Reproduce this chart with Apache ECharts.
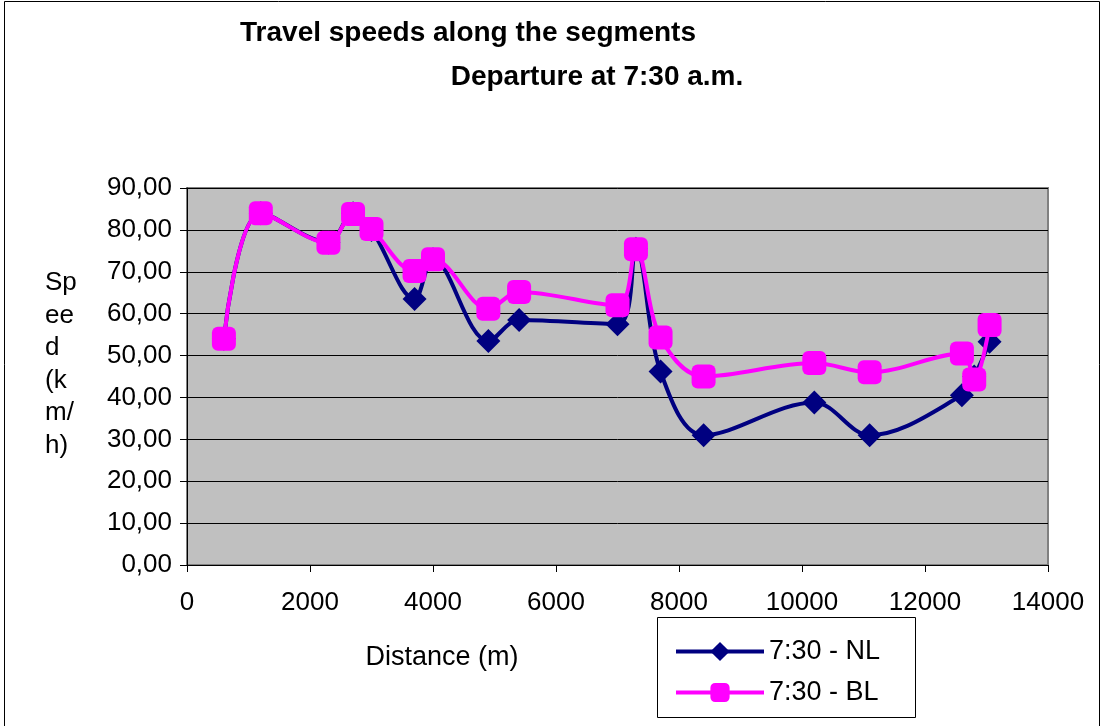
<!DOCTYPE html>
<html><head><meta charset="utf-8">
<script src="https://cdn.jsdelivr.net/npm/echarts@6/dist/echarts.min.js"></script>
<style>html,body{margin:0;padding:0;background:#fff}#c{width:1104px;height:726px}</style>
</head><body><div id="c"></div>
<script>
const distances = [600, 1200, 2300, 2700, 3000, 3700, 4000, 4900, 5400, 7000, 7300, 7700, 8400, 10200, 11100, 12600, 12800, 13050];
const speedNL = [54, 84, 77, 84, 80, 63.5, 73, 53.5, 58.5, 57.5, 75.5, 46.2, 31, 38.8, 31, 40.5, 45, 53.3];
const speedBL = [54, 84, 76.9, 83.8, 80.2, 70.2, 73, 61.2, 65.2, 62, 75.4, 54.3, 45, 48.2, 46, 50.5, 44.3, 57.3];
const seriesNames = ['7:30 - NL', '7:30 - BL'];
const titleLines = ['Travel speeds along the segments', 'Departure at 7:30 a.m.'];
const yAxisNameLines = ['Sp', 'ee', 'd', '(k', 'm/', 'h)'];
const xAxisName = 'Distance (m)';

const chart = echarts.init(document.getElementById('c'), null, {renderer: 'canvas'});
const FONT = 'Liberation Sans, Arial, sans-serif';
const pair = (xs, ys) => xs.map((x, i) => [x, ys[i]]);
chart.setOption({
  animation: false,
  backgroundColor: '#fff',
  textStyle: {fontFamily: FONT},
  grid: {left: 187, right: 56, top: 188, bottom: 161, show: true, backgroundColor: '#C0C0C0', borderColor: '#808080', borderWidth: 2},
  xAxis: {
    type: 'value', min: 0, max: 14000, interval: 2000,
    axisLine: {show: true, onZero: false, lineStyle: {color: '#000', width: 1}},
    axisTick: {show: true, inside: false, length: 7, lineStyle: {color: '#000'}},
    axisLabel: {color: '#000', fontSize: 26, fontFamily: FONT, margin: 25, formatter: v => String(v)},
    splitLine: {show: false}
  },
  yAxis: {
    type: 'value', min: 0, max: 90, interval: 10,
    axisLine: {show: true, lineStyle: {color: '#000', width: 1}},
    axisTick: {show: true, length: 7, lineStyle: {color: '#000'}},
    axisLabel: {color: '#000', fontSize: 26, fontFamily: FONT, margin: 15, formatter: v => v.toFixed(2).replace('.', ',')},
    splitLine: {show: true, lineStyle: {color: '#000', width: 1}}
  },
  legend: {
    left: 669, top: 633, orient: 'vertical', itemGap: 14, itemWidth: 88, itemHeight: 24,
    lineStyle: {width: 4},
    textStyle: {fontSize: 27, color: '#000', fontFamily: FONT},
    data: seriesNames
  },
  series: [
    {name: seriesNames[0], type: 'line', data: pair(distances, speedNL), smooth: 0.35,
     symbol: 'diamond', symbolSize: 24, lineStyle: {color: '#000080', width: 4},
     itemStyle: {color: '#000080'}, z: 2},
    {name: seriesNames[1], type: 'line', data: pair(distances, speedBL), smooth: 0.35,
     symbol: 'roundRect', symbolSize: 24, lineStyle: {color: '#FF00FF', width: 4},
     itemStyle: {color: '#FF00FF'}, z: 3}
  ],
  graphic: [
    {type: 'rect', shape: {x: 4.5, y: 1.5, width: 1095, height: 740}, style: {fill: null, stroke: '#000', lineWidth: 1}, silent: true},
    {type: 'rect', shape: {x: 657.5, y: 617.5, width: 258, height: 100}, style: {fill: null, stroke: '#000', lineWidth: 1}, silent: true, z: -1},
    {type: 'text', style: {text: titleLines[0], x: 468, y: 33, align: 'center', verticalAlign: 'middle', font: 'bold 28px ' + FONT, fill: '#000'}},
    {type: 'text', style: {text: titleLines[1], x: 597, y: 77, align: 'center', verticalAlign: 'middle', font: 'bold 28px ' + FONT, fill: '#000'}},
    {type: 'text', style: {text: yAxisNameLines.join('\n'), x: 45, y: 267, align: 'left', verticalAlign: 'top', font: '26px ' + FONT, lineHeight: 32.5, fill: '#000'}},
    {type: 'text', style: {text: xAxisName, x: 442, y: 658, align: 'center', verticalAlign: 'middle', font: '27px ' + FONT, fill: '#000'}}
  ]
});
</script></body></html>
